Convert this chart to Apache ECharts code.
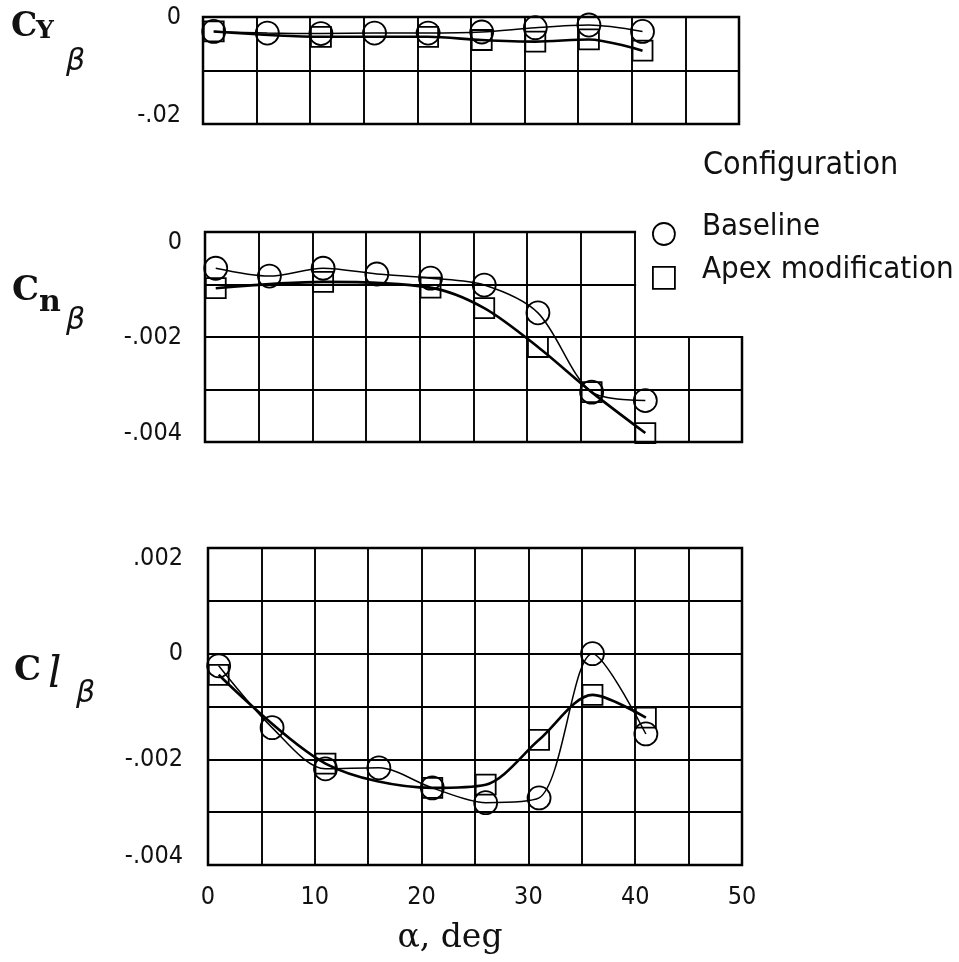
<!DOCTYPE html>
<html><head><meta charset="utf-8">
<script src="https://cdn.jsdelivr.net/npm/echarts@6/dist/echarts.min.js"></script>
<style>html,body{margin:0;padding:0;background:#fff}#c{width:959px;height:962px}</style>
</head><body><div id="c"></div>
<script>
// ---- data ----
const alphaBase = [1, 6, 11, 16, 21, 26, 31, 36, 41];
const alphaApex = [1, 11, 21, 26, 31, 36, 41];
const cyBase = [-0.0027, -0.0030, -0.0031, -0.0030, -0.0030, -0.0028, -0.0020, -0.0015, -0.0027];
const cyApex = [-0.0027, -0.0037, -0.0037, -0.0043, -0.0046, -0.0042, -0.0063];
const cnBase = [-0.00069, -0.00084, -0.00069, -0.00080, -0.00088, -0.00101, -0.00154, -0.00305, -0.00321];
const cnApex = [-0.00107, -0.00095, -0.00106, -0.00145, -0.00219, -0.00305, -0.00383];
const clBase = [-0.00023, -0.00140, -0.00218, -0.00216, -0.00254, -0.00282, -0.00273, 0.00000, -0.00152];
const clApex = [-0.00040, -0.00208, -0.00254, -0.00248, -0.00163, -0.00078, -0.00121];
const xTickVals = [0, 10, 20, 30, 40, 50];
const xTickText = ['0', '10', '20', '30', '40', '50'];
const cyTickVals = [0, -0.02];
const cyTickText = ['0', '-.02'];
const cnTickVals = [0, -0.002, -0.004];
const cnTickText = ['0', '-.002', '-.004'];
const clTickVals = [0.002, 0, -0.002, -0.004];
const clTickText = ['.002', '0', '-.002', '-.004'];
const seriesNames = ['Baseline', 'Apex modification'];
const legendTitle = 'Configuration';
const xTitle = 'α, deg';

// ---- styling ----
const NARROW = "'Liberation Sans Narrow', 'DejaVu Sans Condensed', 'Liberation Sans', sans-serif";
const SERIF = "'DejaVu Serif', 'Liberation Serif', serif";
const GREEK = "'DejaVu Sans', sans-serif";
const INK = '#111';

function tickFormatter(vals, texts, shiftMax, shiftMin) {
  return function (v) {
    for (let i = 0; i < vals.length; i++) {
      if (Math.abs(v - vals[i]) < 1e-9) {
        if (shiftMax && i === 0) return '{hi|' + texts[i] + '}';
        if (shiftMin && i === vals.length - 1) return '{lo|' + texts[i] + '}';
        return texts[i];
      }
    }
    return '';
  };
}
const labRich = {
  hi: {padding: [20, 0, 0, 0], fontFamily: NARROW, fontSize: 25, color: INK},
  lo: {padding: [0, 0, 18, 0], fontFamily: NARROW, fontSize: 25, color: INK}
};

const grids = [
  {left: 203, right: 220, top: 17, height: 107},
  {left: 205, right: 217, top: 232, height: 210},
  {left: 208, right: 217, top: 548, height: 317}
].map(g => Object.assign(g, {show: true, borderColor: '#000', borderWidth: 2.5, backgroundColor: 'transparent'}));

function xAxis(i, showLabels) {
  return {
    type: 'value', gridIndex: i, min: 0, max: 50, interval: 5,
    axisLine: {show: false}, axisTick: {show: false},
    splitLine: {show: true, lineStyle: {color: '#000', width: 1.9}},
    axisLabel: {
      show: showLabels, margin: 20, fontFamily: NARROW, fontSize: 25, color: INK,
      formatter: tickFormatter(xTickVals, xTickText, false, false)
    }
  };
}
function yAxis(i, min, max, interval, vals, texts, shiftMax, margin) {
  return {
    type: 'value', gridIndex: i, min: min, max: max, interval: interval,
    axisLine: {show: false}, axisTick: {show: false},
    splitLine: {show: true, lineStyle: {color: '#000', width: 1.9}},
    axisLabel: {
      margin: margin, fontFamily: NARROW, fontSize: 25, color: INK, rich: labRich,
      formatter: tickFormatter(vals, texts, shiftMax, true)
    }
  };
}

function mkSeries(name, i, xs, ys, isApex) {
  return {
    name: name, type: 'line', xAxisIndex: i, yAxisIndex: i,
    data: xs.map((a, k) => [a, ys[k]]),
    smooth: 0.3, clip: false,
    symbol: isApex ? 'rect' : 'circle', symbolSize: isApex ? 20 : 23,
    itemStyle: {color: 'rgba(0,0,0,0)', borderColor: '#000', borderWidth: 1.8},
    lineStyle: {color: '#000', width: isApex ? 2.6 : 1.5},
    z: isApex ? 3 : 2
  };
}

const chart = echarts.init(document.getElementById('c'), null, {renderer: 'canvas'});
chart.setOption({
  animation: false,
  backgroundColor: '#fff',
  color: ['#000'],
  grid: grids,
  xAxis: [xAxis(0, false), xAxis(1, false), xAxis(2, true)],
  yAxis: [
    yAxis(0, -0.02, 0, 0.01, cyTickVals, cyTickText, false, 22),
    yAxis(1, -0.004, 0, 0.001, cnTickVals, cnTickText, true, 23),
    yAxis(2, -0.004, 0.002, 0.001, clTickVals, clTickText, true, 25)
  ],
  legend: {
    orient: 'vertical', left: 647, top: 206, itemGap: 9,
    itemWidth: 22, itemHeight: 22,
    data: [{name: seriesNames[0], icon: 'circle'}, {name: seriesNames[1], icon: 'rect'}],
    itemStyle: {color: 'rgba(0,0,0,0)', borderColor: '#000', borderWidth: 1.8},
    formatter: function (name) { return '{t|' + name + '}'; },
    textStyle: {
      fontFamily: NARROW, fontSize: 31, color: INK, padding: [0, 0, 0, 22],
      rich: {t: {fontFamily: NARROW, fontSize: 31, color: INK, padding: [0, 0, 15, 0]}}
    },
    selectedMode: false
  },
  series: [
    mkSeries(seriesNames[0], 0, alphaBase, cyBase, false),
    mkSeries(seriesNames[1], 0, alphaApex, cyApex, true),
    mkSeries(seriesNames[0], 1, alphaBase, cnBase, false),
    mkSeries(seriesNames[1], 1, alphaApex, cnApex, true),
    mkSeries(seriesNames[0], 2, alphaBase, clBase, false),
    mkSeries(seriesNames[1], 2, alphaApex, clApex, true)
  ]
});

// notch in the middle panel (upper-right cells removed for the legend)
const p0 = chart.convertToPixel({gridIndex: 1}, [40, 0]);
const p1 = chart.convertToPixel({gridIndex: 1}, [50, -0.002]);

function txt(x, y, s, size, family, weight, style, align) {
  return {type: 'text', x: x, y: y, z: 5, style: {
    text: s, fontSize: size, fontFamily: family, fontWeight: weight || 'normal',
    fontStyle: style || 'normal', fill: INK, align: align || 'left', verticalAlign: 'middle'}};
}

chart.setOption({
  graphic: [
    {type: 'rect', z: 1, shape: {x: p0[0] + 1.5, y: p0[1] - 5, width: p1[0] - p0[0] + 5, height: p1[1] - p0[1] + 5 - 0.9},
     style: {fill: '#fff'}},
    // Cy beta
    txt(11, 27, 'C', 33, SERIF, 'bold'),
    txt(36, 31, 'Y', 25, SERIF, 'bold'),
    txt(66, 62, 'β', 30, GREEK, 'normal', 'italic'),
    // Cn beta
    txt(12, 291, 'C', 34, SERIF, 'bold'),
    txt(39, 303, 'n', 30, SERIF, 'bold'),
    txt(66, 321, 'β', 30, GREEK, 'normal', 'italic'),
    // Cl beta
    txt(14, 671, 'C', 34, SERIF, 'bold'),
    txt(48, 676, 'l', 42, SERIF, 'normal', 'italic'),
    txt(76, 694, 'β', 30, GREEK, 'normal', 'italic'),
    // legend title and x title
    txt(703, 166, legendTitle, 32, NARROW),
    txt(450, 938, xTitle, 33, SERIF, 'normal', 'normal', 'center')
  ]
});
</script></body></html>
